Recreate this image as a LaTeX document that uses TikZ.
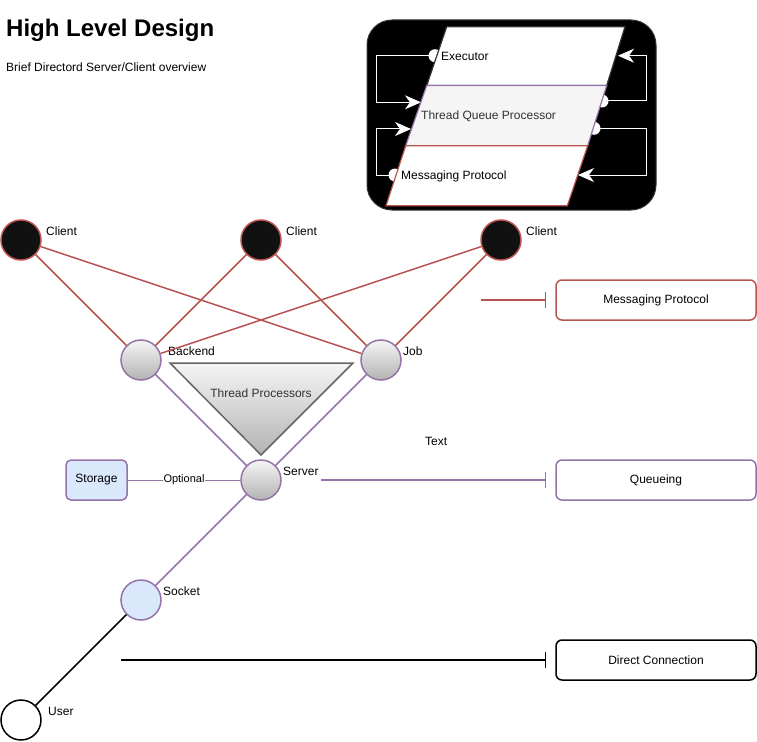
\documentclass[tikz,border=0pt]{standalone}
\usepackage{fontspec}
\setmainfont{Liberation Sans}
\usetikzlibrary{arrows.meta}
\definecolor{redc}{HTML}{B85450}
\definecolor{purc}{HTML}{9673A6}
\definecolor{bluef}{HTML}{DAE8FC}
\definecolor{darkf}{HTML}{111111}
\definecolor{greyt}{HTML}{333333}
\definecolor{gtop}{HTML}{F5F5F5}
\definecolor{gbot}{HTML}{B3B3B3}
\definecolor{tribord}{HTML}{666666}
\tikzset{
  circnode/.style={circle, minimum size=40pt, inner sep=0pt, line width=1.5pt},
  clientnode/.style={circnode, draw=redc, fill=darkf},
  gradnode/.style={circnode, draw=purc, top color=gtop, bottom color=gbot},
  socknode/.style={circnode, draw=purc, fill=bluef},
  usernode/.style={circnode, draw=black, fill=white},
  lbl/.style={inner sep=0pt, anchor=west, font=\fontsize{12}{14}\selectfont},
  redline/.style={draw=redc, line width=1.5pt},
  purline/.style={draw=purc, line width=1.5pt},
  blkline/.style={draw=black, line width=1.5pt},
  legbox/.style={draw, rounded corners=6pt, line width=1.5pt, fill=white, minimum width=200pt, minimum height=40pt, inner sep=0pt, font=\fontsize{12}{14}\selectfont},
  wline/.style={draw=white, line width=1pt},
  wtip/.style={-{Stealth[length=16pt,width=14pt,inset=5pt,fill=white]}},
  startdot/.style={circle, fill=white, minimum size=13pt, inner sep=0pt}
}
\begin{document}
\begin{tikzpicture}[x=1pt,y=-1pt, font=\fontsize{12}{14}\selectfont]
\useasboundingbox (0,0) rectangle (757,741);

% Title
\node[inner sep=0pt, anchor=west, font=\bfseries\fontsize{24}{28}\selectfont] (title) at (6,30) {High Level Design};
\node[lbl] (subtitle) at (6,67) {Brief Directord Server/Client overview};

% Black box
\draw[fill=black, draw=greyt, line width=1pt, rounded corners=25pt] (367,20) rectangle (656,210);

% connector points
\coordinate (e1) at (435,55.7);
\coordinate (e1a) at (376.7,55.7);
\coordinate (e1b) at (376.7,102.3);
\coordinate (e1t) at (421,102.3);
\coordinate (m1) at (395,175);
\coordinate (m1a) at (376.7,175);
\coordinate (m1b) at (376.7,129);
\coordinate (m1t) at (411,129);
\coordinate (q1) at (602,101);
\coordinate (q1a) at (646.7,101);
\coordinate (q1b) at (646.7,55.7);
\coordinate (q1t) at (618,55.7);
\coordinate (q2) at (594,128.3);
\coordinate (q2a) at (646.7,128.3);
\coordinate (q2b) at (646.7,175);
\coordinate (q2t) at (578,175);

\node[startdot] (d1) at (e1) {};
\node[startdot] (d2) at (m1) {};
\node[startdot] (d3) at (q1) {};
\node[startdot] (d4) at (q2) {};
\draw[wline, wtip] (e1) -- (e1a) -- (e1b) -- (e1t);
\draw[wline, wtip] (m1) -- (m1a) -- (m1b) -- (m1t);
\draw[wline, wtip] (q1) -- (q1a) -- (q1b) -- (q1t);
\draw[wline, wtip] (q2) -- (q2a) -- (q2b) -- (q2t);

% parallelograms
\draw[fill=white, draw=greyt, line width=1.2pt] (446.7,26.7) -- (625,26.7) -- (606.7,85.5) -- (426.7,85.5) -- cycle;
\draw[fill=gtop, draw=purc, line width=1.2pt] (426.7,85.5) -- (606.7,85.5) -- (587.7,145.7) -- (405.7,145.7) -- cycle;
\draw[fill=white, draw=redc, line width=1.2pt] (405.7,145.7) -- (587.7,145.7) -- (567.3,205.7) -- (386,205.7) -- cycle;
\node[lbl] (exec) at (441,56) {Executor};
\node[lbl, text=greyt] (tqp) at (421,116) {Thread Queue Processor};
\node[lbl] (mp) at (401,176) {Messaging Protocol};

% circle nodes
\node[clientnode] (c1) at (21,240) {};
\node[clientnode] (c2) at (261,240) {};
\node[clientnode] (c3) at (501,240) {};
\node[gradnode] (backend) at (141,360) {};
\node[gradnode] (job) at (381,360) {};
\node[gradnode] (server) at (261,480) {};
\node[socknode] (socket) at (141,600) {};
\node[usernode] (user) at (21,720) {};

\node[lbl] (c1l) at (46,231) {Client};
\node[lbl] (c2l) at (286,231) {Client};
\node[lbl] (c3l) at (526,231) {Client};
\node[lbl] (bl) at (168,351) {Backend};
\node[lbl] (jl) at (403,351) {Job};
\node[lbl] (sl) at (283,471) {Server};
\node[lbl] (sol) at (163,591) {Socket};
\node[lbl] (ul) at (48,711) {User};
\node[lbl] (txt) at (425,441) {Text};

% triangle
\draw[top color=gtop, bottom color=gbot, draw=tribord, line width=1.5pt] (170,363) -- (353,363) -- (261,455) -- cycle;
\node[text=greyt] (tp) at (261,393) {Thread Processors};

% storage
\node[draw=purc, fill=bluef, line width=1.5pt, rounded corners=5pt, minimum width=61pt, minimum height=40pt, inner sep=0pt] (storage) at (96.5,480) {Storage};

% edges
\draw[redline] (c1) -- (backend);
\draw[redline] (c1) -- (job);
\draw[redline] (c2) -- (backend);
\draw[redline] (c2) -- (job);
\draw[redline] (c3) -- (backend);
\draw[redline] (c3) -- (job);
\draw[purline] (backend) -- (server);
\draw[purline] (job) -- (server);
\draw[purline] (server) -- (socket);
\draw[blkline] (socket) -- (user);
\draw[draw=purc, line width=1pt] (storage) -- node[fill=white, inner sep=1pt, font=\fontsize{11}{13}\selectfont] (opt) {Optional} (server);

% legend
\node[legbox, draw=redc] (lmp) at (656,300) {Messaging Protocol};
\node[legbox, draw=purc] (lq) at (656,480) {Queueing};
\node[legbox, draw=black] (ldc) at (656,660) {Direct Connection};
\coordinate (lr) at (481,300);
\coordinate (lre) at (546,300);
\coordinate (lp) at (321,480);
\coordinate (lpe) at (546,480);
\coordinate (lb) at (121,660);
\coordinate (lbe) at (546,660);
\draw[redline, -{Bar[width=16pt]}] (lr) -- (lre);
\draw[purline, -{Bar[width=16pt]}] (lp) -- (lpe);
\draw[blkline, -{Bar[width=16pt]}] (lb) -- (lbe);
\end{tikzpicture}
\end{document}
